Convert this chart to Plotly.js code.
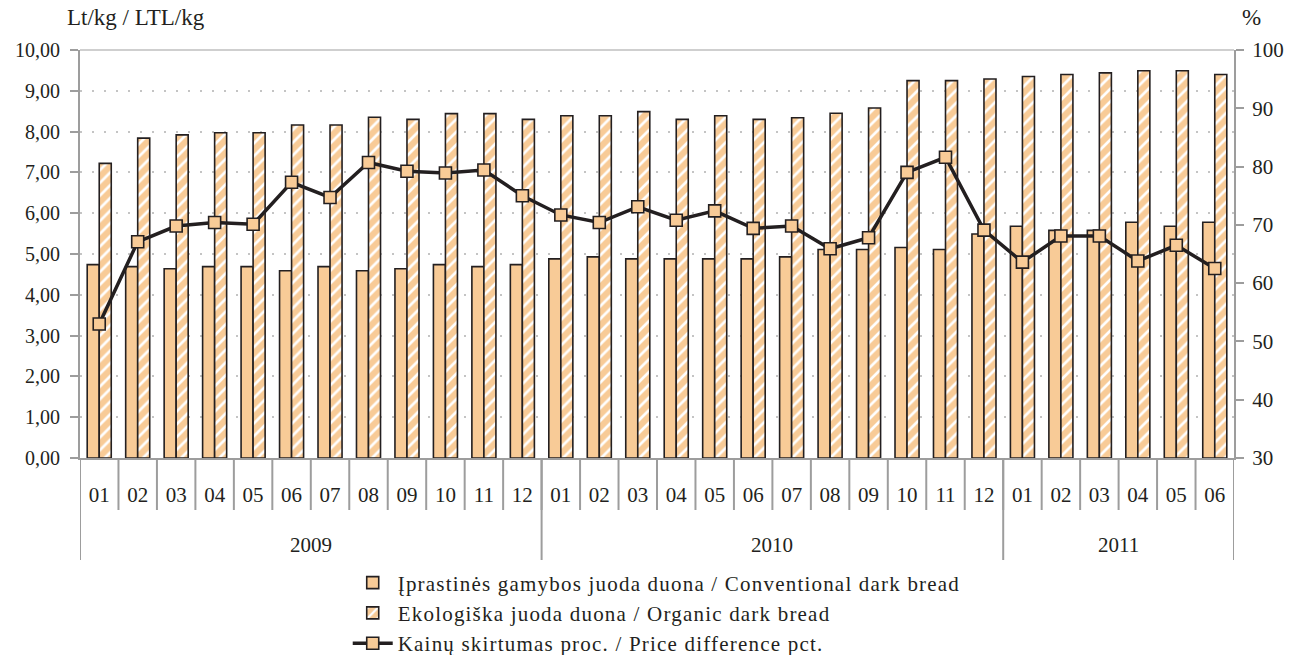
<!DOCTYPE html>
<html>
<head>
<meta charset="utf-8">
<script src="https://cdn.plot.ly/plotly-3.0.1.min.js"></script>
<style>html,body{margin:0;padding:0;background:#fff;}#chart{width:1290px;height:655px;}
.legendtext{letter-spacing:1.2px;}</style>
</head>
<body>
<div id="chart"></div>
<script>
const years = ['2009','2009','2009','2009','2009','2009','2009','2009','2009','2009','2009','2009',
               '2010','2010','2010','2010','2010','2010','2010','2010','2010','2010','2010','2010',
               '2011','2011','2011','2011','2011','2011'];
const months = ['01','02','03','04','05','06','07','08','09','10','11','12',
                '01','02','03','04','05','06','07','08','09','10','11','12',
                '01','02','03','04','05','06'];
const conventional = [4.74,4.69,4.64,4.69,4.69,4.59,4.69,4.59,4.64,4.74,4.69,4.74,
                      4.88,4.93,4.88,4.88,4.88,4.88,4.93,5.11,5.11,5.16,5.11,5.49,
                      5.68,5.58,5.58,5.78,5.68,5.78];
const organic = [7.22,7.84,7.92,7.97,7.97,8.16,8.16,8.35,8.30,8.44,8.44,8.30,
                 8.39,8.39,8.49,8.30,8.39,8.30,8.34,8.45,8.58,9.25,9.25,9.29,
                 9.35,9.40,9.44,9.49,9.49,9.40];
const priceDiff = [53.0,67.1,69.8,70.4,70.1,77.3,74.7,80.7,79.2,78.9,79.4,75.0,
                   71.7,70.4,73.1,70.8,72.4,69.4,69.8,65.9,67.8,79.0,81.6,69.1,
                   63.6,68.1,68.1,63.8,66.5,62.5];
const names = ['Įprastinės gamybos juoda duona / Conventional dark bread',
               'Ekologiška juoda duona / Organic dark bread',
               'Kainų skirtumas proc. / Price difference pct.'];

const orange = '#F8CB97';
const dark = '#231F20';
const axisGray = '#9D9D9D';
const fam = '"Liberation Serif", "Times New Roman", serif';
const font = {family: fam, size: 20, color: dark};
const xfont = {family: fam, size: 21, color: dark};
const bigfont = {family: fam, size: 23, color: dark};
const legfont = {family: fam, size: 21, color: dark};

// category index positions (derived from the month list)
const idx = months.map((m, i) => i);
const range = [-0.5, months.length - 0.5];
const monthBounds = [];
for (let i = 1; i < months.length; i++) monthBounds.push(i - 0.5);
const yearBounds = [-0.5];
const yearCenters = [], yearNames = [];
let start = 0;
for (let i = 1; i <= years.length; i++) {
  if (i === years.length || years[i] !== years[i - 1]) {
    yearBounds.push(i - 0.5);
    yearCenters.push((start + i - 1) / 2);
    yearNames.push(years[i - 1]);
    start = i;
  }
}

const plotH = 655 - 50 - 197;
const sepLine = {color: axisGray, width: 2};
const shapes = [{type: 'line', xref: 'paper', yref: 'paper', x0: 0, x1: 1, y0: 1, y1: 1,
                 line: {color: '#CFCFCF', width: 2}}];
monthBounds.forEach(b => shapes.push({type: 'line', xref: 'x', yref: 'paper', x0: b, x1: b,
                 y0: 0, y1: -52 / plotH, line: sepLine}));
yearBounds.forEach(b => shapes.push({type: 'line', xref: 'x', yref: 'paper', x0: b, x1: b,
                 y0: 0, y1: -102 / plotH, line: sepLine}));

const annotations = [
  {text: 'Lt/kg / LTL/kg', xref: 'paper', yref: 'paper', x: -0.013, y: 1.045,
   xanchor: 'left', yanchor: 'bottom', showarrow: false, font: bigfont},
  {text: '%', xref: 'paper', yref: 'paper', x: 1.005, y: 1.045,
   xanchor: 'left', yanchor: 'bottom', showarrow: false, font: bigfont}
];
yearCenters.forEach((c, k) => annotations.push({text: yearNames[k], xref: 'x', yref: 'paper',
   x: c, y: -87 / plotH, xanchor: 'center', yanchor: 'middle', showarrow: false, font: xfont}));

const traces = [
  {type: 'bar', name: names[0], x: idx, y: conventional,
   marker: {color: orange, line: {color: dark, width: 1.6}}},
  {type: 'bar', name: names[1], x: idx, y: organic,
   marker: {color: orange, line: {color: dark, width: 1.6},
            pattern: {shape: '/', bgcolor: orange, fgcolor: '#ffffff', size: 9, solidity: 0.3}}},
  {type: 'scatter', mode: 'lines+markers', name: names[2], x: idx, y: priceDiff, yaxis: 'y2',
   line: {color: dark, width: 3.5},
   marker: {symbol: 'square', size: 12, color: orange, line: {color: dark, width: 1.6}}}
];

const layout = {
  width: 1290, height: 655,
  margin: {l: 80, r: 56, t: 50, b: 197, autoexpand: false},
  paper_bgcolor: '#fff', plot_bgcolor: '#fff',
  font: font,
  separators: ', ',
  barmode: 'group', bargap: 0.375, bargroupgap: 0,
  showlegend: true,
  legend: {x: 0.232, xanchor: 'left', y: -0.256, yanchor: 'top', orientation: 'v',
           font: legfont, bgcolor: 'rgba(0,0,0,0)', itemwidth: 40, traceorder: 'normal'},
  xaxis: {range: range, tickmode: 'array', tickvals: idx, ticktext: months,
          ticks: '', showline: true, linecolor: axisGray, linewidth: 2, showgrid: false,
          zeroline: false, ticklabelstandoff: 17, tickfont: xfont},
  yaxis: {range: [0, 10], dtick: 1, tickformat: '.2f', showline: true, linecolor: axisGray,
          linewidth: 2, ticks: 'outside', ticklen: 8, tickcolor: axisGray, tickwidth: 2,
          showgrid: true, gridcolor: '#C4C4C4', gridwidth: 2, griddash: '2px,10px',
          zeroline: false, tickfont: font, ticklabelstandoff: 6},
  yaxis2: {overlaying: 'y', side: 'right', range: [30, 100], dtick: 10, showline: true,
           linecolor: axisGray, linewidth: 2, ticks: 'outside', ticklen: 8, tickcolor: axisGray,
           tickwidth: 2, showgrid: false, zeroline: false, tickfont: xfont, ticklabelstandoff: 4},
  shapes: shapes,
  annotations: annotations
};

Plotly.newPlot('chart', traces, layout, {displayModeBar: false, staticPlot: true});
</script>
</body>
</html>
